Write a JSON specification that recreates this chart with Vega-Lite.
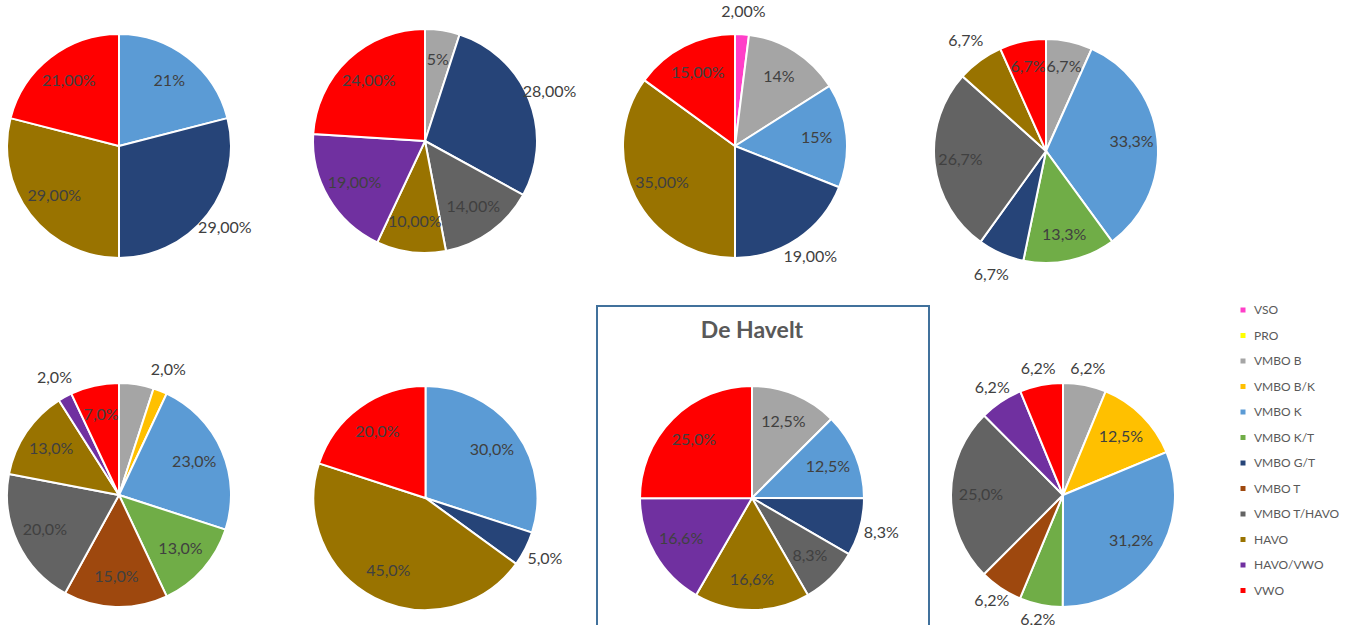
{
  "$schema": "https://vega.github.io/schema/vega-lite/v6.json",
  "padding": {"left": -3, "top": 0, "right": 0, "bottom": 0},
  "background": "white",
  "config": {"view": {"stroke": null}, "font": "Lato"},
  "data": {"values": [
    {"pie": 1, "cat": "VMBO K", "k": 5, "v": 21, "lab": "21%"},
    {"pie": 1, "cat": "VMBO G/T", "k": 7, "v": 29, "lab": "29,00%"},
    {"pie": 1, "cat": "HAVO", "k": 10, "v": 29, "lab": "29,00%"},
    {"pie": 1, "cat": "VWO", "k": 12, "v": 21, "lab": "21,00%"},
    {"pie": 2, "cat": "VMBO B", "k": 3, "v": 5, "lab": "5%"},
    {"pie": 2, "cat": "VMBO G/T", "k": 7, "v": 28, "lab": "28,00%"},
    {"pie": 2, "cat": "VMBO T/HAVO", "k": 9, "v": 14, "lab": "14,00%"},
    {"pie": 2, "cat": "HAVO", "k": 10, "v": 10, "lab": "10,00%"},
    {"pie": 2, "cat": "HAVO/VWO", "k": 11, "v": 19, "lab": "19,00%"},
    {"pie": 2, "cat": "VWO", "k": 12, "v": 24, "lab": "24,00%"},
    {"pie": 3, "cat": "VSO", "k": 1, "v": 2, "lab": "2,00%"},
    {"pie": 3, "cat": "VMBO B", "k": 3, "v": 14, "lab": "14%"},
    {"pie": 3, "cat": "VMBO K", "k": 5, "v": 15, "lab": "15%"},
    {"pie": 3, "cat": "VMBO G/T", "k": 7, "v": 19, "lab": "19,00%"},
    {"pie": 3, "cat": "HAVO", "k": 10, "v": 35, "lab": "35,00%"},
    {"pie": 3, "cat": "VWO", "k": 12, "v": 15, "lab": "15,00%"},
    {"pie": 4, "cat": "VMBO B", "k": 3, "v": 6.7, "lab": "6,7%"},
    {"pie": 4, "cat": "VMBO K", "k": 5, "v": 33.3, "lab": "33,3%"},
    {"pie": 4, "cat": "VMBO K/T", "k": 6, "v": 13.3, "lab": "13,3%"},
    {"pie": 4, "cat": "VMBO G/T", "k": 7, "v": 6.7, "lab": "6,7%"},
    {"pie": 4, "cat": "VMBO T/HAVO", "k": 9, "v": 26.7, "lab": "26,7%"},
    {"pie": 4, "cat": "HAVO", "k": 10, "v": 6.7, "lab": "6,7%"},
    {"pie": 4, "cat": "VWO", "k": 12, "v": 6.7, "lab": "6,7%"},
    {"pie": 5, "cat": "VMBO B", "k": 3, "v": 5, "lab": ""},
    {"pie": 5, "cat": "VMBO B/K", "k": 4, "v": 2, "lab": "2,0%"},
    {"pie": 5, "cat": "VMBO K", "k": 5, "v": 23, "lab": "23,0%"},
    {"pie": 5, "cat": "VMBO K/T", "k": 6, "v": 13, "lab": "13,0%"},
    {"pie": 5, "cat": "VMBO T", "k": 8, "v": 15, "lab": "15,0%"},
    {"pie": 5, "cat": "VMBO T/HAVO", "k": 9, "v": 20, "lab": "20,0%"},
    {"pie": 5, "cat": "HAVO", "k": 10, "v": 13, "lab": "13,0%"},
    {"pie": 5, "cat": "HAVO/VWO", "k": 11, "v": 2, "lab": "2,0%"},
    {"pie": 5, "cat": "VWO", "k": 12, "v": 7, "lab": "7,0%"},
    {"pie": 6, "cat": "VMBO K", "k": 5, "v": 30, "lab": "30,0%"},
    {"pie": 6, "cat": "VMBO G/T", "k": 7, "v": 5, "lab": "5,0%"},
    {"pie": 6, "cat": "HAVO", "k": 10, "v": 45, "lab": "45,0%"},
    {"pie": 6, "cat": "VWO", "k": 12, "v": 20, "lab": "20,0%"},
    {"pie": 7, "cat": "VMBO B", "k": 3, "v": 12.5, "lab": "12,5%"},
    {"pie": 7, "cat": "VMBO K", "k": 5, "v": 12.5, "lab": "12,5%"},
    {"pie": 7, "cat": "VMBO G/T", "k": 7, "v": 8.3, "lab": "8,3%"},
    {"pie": 7, "cat": "VMBO T/HAVO", "k": 9, "v": 8.3, "lab": "8,3%"},
    {"pie": 7, "cat": "HAVO", "k": 10, "v": 16.6, "lab": "16,6%"},
    {"pie": 7, "cat": "HAVO/VWO", "k": 11, "v": 16.6, "lab": "16,6%"},
    {"pie": 7, "cat": "VWO", "k": 12, "v": 25, "lab": "25,0%"},
    {"pie": 8, "cat": "VMBO B", "k": 3, "v": 6.2, "lab": "6,2%"},
    {"pie": 8, "cat": "VMBO B/K", "k": 4, "v": 12.5, "lab": "12,5%"},
    {"pie": 8, "cat": "VMBO K", "k": 5, "v": 31.2, "lab": "31,2%"},
    {"pie": 8, "cat": "VMBO K/T", "k": 6, "v": 6.2, "lab": "6,2%"},
    {"pie": 8, "cat": "VMBO T", "k": 8, "v": 6.2, "lab": "6,2%"},
    {"pie": 8, "cat": "VMBO T/HAVO", "k": 9, "v": 25, "lab": "25,0%"},
    {"pie": 8, "cat": "HAVO/VWO", "k": 11, "v": 6.2, "lab": "6,2%"},
    {"pie": 8, "cat": "VWO", "k": 12, "v": 6.2, "lab": "6,2%"}
  ]},
  "resolve": {"scale": {"color": "shared", "theta": "independent"}, "legend": {"color": "shared"}},
  "spacing": 13,
  "vconcat": [
    {
      "spacing": 0,
      "bounds": "flush",
      "resolve": {"scale": {"color": "shared", "theta": "independent"}, "legend": {"color": "shared"}},
      "hconcat": [
        {
          "width": 238, "height": 292,
          "transform": [{"filter": "datum.pie == 1"}],
          "encoding": {"theta": {"field": "v", "type": "quantitative", "stack": "normalize"}, "order": {"field": "k", "type": "quantitative"}},
          "layer": [
            {"mark": {"type": "arc", "outerRadius": 112, "stroke": "#ffffff", "strokeWidth": 2},
             "encoding": {"color": {"field": "cat", "type": "nominal",
               "scale": {"domain": ["VSO","PRO","VMBO B","VMBO B/K","VMBO K","VMBO K/T","VMBO G/T","VMBO T","VMBO T/HAVO","HAVO","HAVO/VWO","VWO"], "range": ["#FF3FC8","#FFFF00","#A5A5A5","#FFC000","#5B9BD5","#70AD47","#264478","#9E480E","#636363","#997300","#7030A0","#FF0000"]},
               "legend": {"title": null, "orient": "none", "legendX": 1237, "legendY": 304, "symbolType": "square", "symbolSize": 25, "symbolStrokeWidth": 0, "labelFont": "Lato", "labelFontSize": 12, "labelColor": "#595959", "rowPadding": 13.5, "labelOffset": 5}}}},
            {"mark": {"type": "text", "radius": 82, "fontSize": 16, "color": "#404040"},
             "encoding": {"detail": {"field": "cat"}, "text": {"condition": {"test": "indexof(['VMBO G/T'], datum.cat) < 0", "field": "lab", "type": "nominal"}, "value": ""}}},
            {"mark": {"type": "text", "radius": 134, "fontSize": 16, "color": "#404040"},
             "encoding": {"detail": {"field": "cat"}, "text": {"condition": {"test": "indexof(['VMBO G/T'], datum.cat) >= 0", "field": "lab", "type": "nominal"}, "value": ""}}}
          ]
        },
        {
          "width": 374, "height": 292,
          "transform": [{"filter": "datum.pie == 2"}],
          "encoding": {"theta": {"field": "v", "type": "quantitative", "stack": "normalize"}, "order": {"field": "k", "type": "quantitative"}},
          "layer": [
            {"mark": {"type": "arc", "outerRadius": 112, "stroke": "#ffffff", "strokeWidth": 2, "yOffset": -5},
             "encoding": {"color": {"field": "cat", "type": "nominal",
               "scale": {"domain": ["VSO","PRO","VMBO B","VMBO B/K","VMBO K","VMBO K/T","VMBO G/T","VMBO T","VMBO T/HAVO","HAVO","HAVO/VWO","VWO"], "range": ["#FF3FC8","#FFFF00","#A5A5A5","#FFC000","#5B9BD5","#70AD47","#264478","#9E480E","#636363","#997300","#7030A0","#FF0000"]}}}},
            {"mark": {"type": "text", "radius": 82, "fontSize": 16, "color": "#404040", "yOffset": -5},
             "encoding": {"detail": {"field": "cat"}, "text": {"condition": {"test": "indexof(['VMBO G/T'], datum.cat) < 0", "field": "lab", "type": "nominal"}, "value": ""}}},
            {"mark": {"type": "text", "radius": 134, "fontSize": 16, "color": "#404040", "yOffset": -5},
             "encoding": {"detail": {"field": "cat"}, "text": {"condition": {"test": "indexof(['VMBO G/T'], datum.cat) >= 0", "field": "lab", "type": "nominal"}, "value": ""}}}
          ]
        },
        {
          "width": 246, "height": 292,
          "transform": [{"filter": "datum.pie == 3"}],
          "encoding": {"theta": {"field": "v", "type": "quantitative", "stack": "normalize"}, "order": {"field": "k", "type": "quantitative"}},
          "layer": [
            {"mark": {"type": "arc", "outerRadius": 112, "stroke": "#ffffff", "strokeWidth": 2},
             "encoding": {"color": {"field": "cat", "type": "nominal",
               "scale": {"domain": ["VSO","PRO","VMBO B","VMBO B/K","VMBO K","VMBO K/T","VMBO G/T","VMBO T","VMBO T/HAVO","HAVO","HAVO/VWO","VWO"], "range": ["#FF3FC8","#FFFF00","#A5A5A5","#FFC000","#5B9BD5","#70AD47","#264478","#9E480E","#636363","#997300","#7030A0","#FF0000"]}}}},
            {"mark": {"type": "text", "radius": 82, "fontSize": 16, "color": "#404040"},
             "encoding": {"detail": {"field": "cat"}, "text": {"condition": {"test": "indexof(['VSO','VMBO G/T'], datum.cat) < 0", "field": "lab", "type": "nominal"}, "value": ""}}},
            {"mark": {"type": "text", "radius": 134, "fontSize": 16, "color": "#404040"},
             "encoding": {"detail": {"field": "cat"}, "text": {"condition": {"test": "indexof(['VSO','VMBO G/T'], datum.cat) >= 0", "field": "lab", "type": "nominal"}, "value": ""}}}
          ]
        },
        {
          "width": 376, "height": 292,
          "transform": [{"filter": "datum.pie == 4"}],
          "encoding": {"theta": {"field": "v", "type": "quantitative", "stack": "normalize"}, "order": {"field": "k", "type": "quantitative"}},
          "layer": [
            {"mark": {"type": "arc", "outerRadius": 112, "stroke": "#ffffff", "strokeWidth": 2, "yOffset": 5},
             "encoding": {"color": {"field": "cat", "type": "nominal",
               "scale": {"domain": ["VSO","PRO","VMBO B","VMBO B/K","VMBO K","VMBO K/T","VMBO G/T","VMBO T","VMBO T/HAVO","HAVO","HAVO/VWO","VWO"], "range": ["#FF3FC8","#FFFF00","#A5A5A5","#FFC000","#5B9BD5","#70AD47","#264478","#9E480E","#636363","#997300","#7030A0","#FF0000"]}}}},
            {"mark": {"type": "text", "radius": 86, "fontSize": 16, "color": "#404040", "yOffset": 5},
             "encoding": {"detail": {"field": "cat"}, "text": {"condition": {"test": "indexof(['VMBO G/T','HAVO'], datum.cat) < 0", "field": "lab", "type": "nominal"}, "value": ""}}},
            {"mark": {"type": "text", "radius": 136, "fontSize": 16, "color": "#404040", "yOffset": 5},
             "encoding": {"detail": {"field": "cat"}, "text": {"condition": {"test": "indexof(['VMBO G/T','HAVO'], datum.cat) >= 0", "field": "lab", "type": "nominal"}, "value": ""}}}
          ]
        }
      ]
    },
    {
      "spacing": 0,
      "bounds": "flush",
      "resolve": {"scale": {"color": "shared", "theta": "independent"}, "legend": {"color": "shared"}},
      "hconcat": [
        {
          "width": 238, "height": 384,
          "transform": [{"filter": "datum.pie == 5"}],
          "encoding": {"theta": {"field": "v", "type": "quantitative", "stack": "normalize"}, "order": {"field": "k", "type": "quantitative"}},
          "layer": [
            {"mark": {"type": "arc", "outerRadius": 112, "stroke": "#ffffff", "strokeWidth": 2, "yOffset": -3},
             "encoding": {"color": {"field": "cat", "type": "nominal",
               "scale": {"domain": ["VSO","PRO","VMBO B","VMBO B/K","VMBO K","VMBO K/T","VMBO G/T","VMBO T","VMBO T/HAVO","HAVO","HAVO/VWO","VWO"], "range": ["#FF3FC8","#FFFF00","#A5A5A5","#FFC000","#5B9BD5","#70AD47","#264478","#9E480E","#636363","#997300","#7030A0","#FF0000"]}}}},
            {"mark": {"type": "text", "radius": 82, "fontSize": 16, "color": "#404040", "yOffset": -3},
             "encoding": {"detail": {"field": "cat"}, "text": {"condition": {"test": "indexof(['VMBO B/K','HAVO/VWO'], datum.cat) < 0", "field": "lab", "type": "nominal"}, "value": ""}}},
            {"mark": {"type": "text", "radius": 134, "fontSize": 16, "color": "#404040", "yOffset": -3},
             "encoding": {"detail": {"field": "cat"}, "text": {"condition": {"test": "indexof(['VMBO B/K','HAVO/VWO'], datum.cat) >= 0", "field": "lab", "type": "nominal"}, "value": ""}}}
          ]
        },
        {
          "width": 359, "height": 384,
          "transform": [{"filter": "datum.pie == 6"}],
          "encoding": {"theta": {"field": "v", "type": "quantitative", "stack": "normalize"}, "order": {"field": "k", "type": "quantitative"}},
          "layer": [
            {"mark": {"type": "arc", "outerRadius": 112, "stroke": "#ffffff", "strokeWidth": 2, "xOffset": 8},
             "encoding": {"color": {"field": "cat", "type": "nominal",
               "scale": {"domain": ["VSO","PRO","VMBO B","VMBO B/K","VMBO K","VMBO K/T","VMBO G/T","VMBO T","VMBO T/HAVO","HAVO","HAVO/VWO","VWO"], "range": ["#FF3FC8","#FFFF00","#A5A5A5","#FFC000","#5B9BD5","#70AD47","#264478","#9E480E","#636363","#997300","#7030A0","#FF0000"]}}}},
            {"mark": {"type": "text", "radius": 82, "fontSize": 16, "color": "#404040", "xOffset": 8},
             "encoding": {"detail": {"field": "cat"}, "text": {"condition": {"test": "indexof(['VMBO G/T'], datum.cat) < 0", "field": "lab", "type": "nominal"}, "value": ""}}},
            {"mark": {"type": "text", "radius": 134, "fontSize": 16, "color": "#404040", "xOffset": 8},
             "encoding": {"detail": {"field": "cat"}, "text": {"condition": {"test": "indexof(['VMBO G/T'], datum.cat) >= 0", "field": "lab", "type": "nominal"}, "value": ""}}}
          ]
        },
        {
          "width": 332, "height": 384,
          "view": {"stroke": "#41719C", "strokeWidth": 2},
          "title": {"text": "De Havelt", "font": "Lato", "fontSize": 23, "fontWeight": "bold", "color": "#595959", "anchor": "middle", "baseline": "alphabetic", "offset": -55, "dx": -11},
          "transform": [{"filter": "datum.pie == 7"}],
          "encoding": {"theta": {"field": "v", "type": "quantitative", "stack": "normalize"}, "order": {"field": "k", "type": "quantitative"}},
          "layer": [
            {"mark": {"type": "arc", "outerRadius": 112, "stroke": "#ffffff", "strokeWidth": 2, "xOffset": -11},
             "encoding": {"color": {"field": "cat", "type": "nominal",
               "scale": {"domain": ["VSO","PRO","VMBO B","VMBO B/K","VMBO K","VMBO K/T","VMBO G/T","VMBO T","VMBO T/HAVO","HAVO","HAVO/VWO","VWO"], "range": ["#FF3FC8","#FFFF00","#A5A5A5","#FFC000","#5B9BD5","#70AD47","#264478","#9E480E","#636363","#997300","#7030A0","#FF0000"]}}}},
            {"mark": {"type": "text", "radius": 82, "fontSize": 16, "color": "#404040", "xOffset": -11},
             "encoding": {"detail": {"field": "cat"}, "text": {"condition": {"test": "indexof(['VMBO G/T'], datum.cat) < 0", "field": "lab", "type": "nominal"}, "value": ""}}},
            {"mark": {"type": "text", "radius": 134, "fontSize": 16, "color": "#404040", "xOffset": -11},
             "encoding": {"detail": {"field": "cat"}, "text": {"condition": {"test": "indexof(['VMBO G/T'], datum.cat) >= 0", "field": "lab", "type": "nominal"}, "value": ""}}}
          ]
        },
        {
          "width": 268, "height": 384,
          "transform": [{"filter": "datum.pie == 8"}],
          "encoding": {"theta": {"field": "v", "type": "quantitative", "stack": "normalize"}, "order": {"field": "k", "type": "quantitative"}},
          "layer": [
            {"mark": {"type": "arc", "outerRadius": 112, "stroke": "#ffffff", "strokeWidth": 2, "yOffset": -3},
             "encoding": {"color": {"field": "cat", "type": "nominal",
               "scale": {"domain": ["VSO","PRO","VMBO B","VMBO B/K","VMBO K","VMBO K/T","VMBO G/T","VMBO T","VMBO T/HAVO","HAVO","HAVO/VWO","VWO"], "range": ["#FF3FC8","#FFFF00","#A5A5A5","#FFC000","#5B9BD5","#70AD47","#264478","#9E480E","#636363","#997300","#7030A0","#FF0000"]}}}},
            {"mark": {"type": "text", "radius": 82, "fontSize": 16, "color": "#404040", "yOffset": -3},
             "encoding": {"detail": {"field": "cat"}, "text": {"condition": {"test": "indexof(['VMBO B','VMBO K/T','VMBO T','HAVO/VWO','VWO'], datum.cat) < 0", "field": "lab", "type": "nominal"}, "value": ""}}},
            {"mark": {"type": "text", "radius": 128, "fontSize": 16, "color": "#404040", "yOffset": -3},
             "encoding": {"detail": {"field": "cat"}, "text": {"condition": {"test": "indexof(['VMBO B','VMBO K/T','VMBO T','HAVO/VWO','VWO'], datum.cat) >= 0", "field": "lab", "type": "nominal"}, "value": ""}}}
          ]
        }
      ]
    }
  ]
}
